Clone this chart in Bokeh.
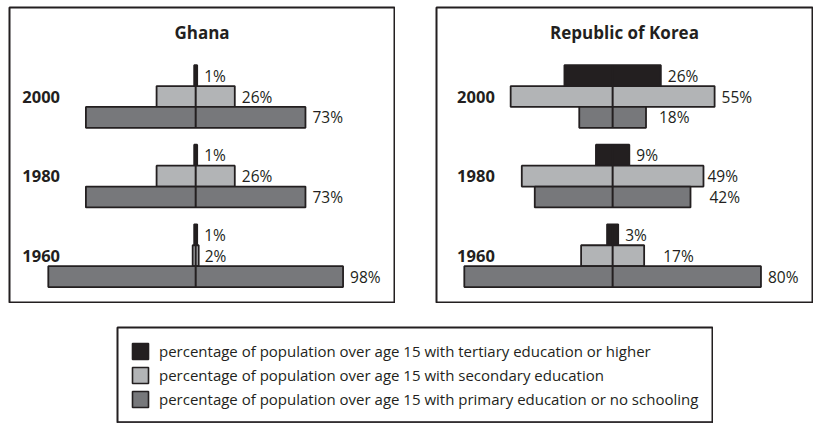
from bokeh.plotting import figure
from bokeh.models import Range1d, Legend, LegendItem, ColumnDataSource, Spacer
from bokeh.layouts import row, column
from bokeh.core.properties import value
from bokeh.embed import file_html
from bokeh.resources import INLINE

# ---------------- data ----------------
years = ["2000", "1980", "1960"]
levels = ["tertiary", "secondary", "primary"]
panel_titles = ["Ghana", "Republic of Korea"]

ghana_tertiary = [1, 1, 1]
ghana_secondary = [26, 26, 2]
ghana_primary = [73, 73, 98]

korea_tertiary = [26, 9, 3]
korea_secondary = [55, 49, 17]
korea_primary = [18, 42, 80]

legend_labels = [
    "percentage of population over age 15 with tertiary education or higher",
    "percentage of population over age 15 with secondary education",
    "percentage of population over age 15 with primary education or no schooling",
]

# ---------------- styles ----------------
INK = "#231f20"
FILLS = {"tertiary": "#231f20", "secondary": "#b2b4b6", "primary": "#77787b"}
FONT = "Open Sans"
GROUP_STEP = 3.81
LEVEL_OFFSET = {"tertiary": 1, "secondary": 0, "primary": -1}
Y_RANGE = (-2.24, 11.88)
LABEL_GAP = 7
TITLE_Y = 10.68

# per-label pixel nudges (tertiary, secondary, primary) x years
ghana_nudge = [[0, 0, 0], [0, 0, -1], [0, 0, 0]]
korea_nudge = [[0, 0, 0], [0, -3, 12], [6, 12, 0]]


def make_panel(title, series, x_range, width, year_x, nudges):
    p = figure(width=width, height=297, x_range=Range1d(*x_range),
               y_range=Range1d(*Y_RANGE), output_backend="svg",
               toolbar_location=None, x_axis_location=None,
               y_axis_location=None, min_border=1)
    p.title.visible = False
    p.grid.visible = False
    p.outline_line_color = INK
    p.outline_line_width = 2
    p.background_fill_color = "white"

    n = len(years)
    group_y = [GROUP_STEP * (n - 1 - i) for i in range(n)]

    for lvl, vals, nud in zip(levels, series, nudges):
        ys = [g + LEVEL_OFFSET[lvl] for g in group_y]
        src = ColumnDataSource(dict(
            y=ys,
            left=[-v / 2 for v in vals],
            right=[v / 2 for v in vals],
            lab=[f"{v}%" for v in vals],
            xo=[LABEL_GAP + d for d in nud],
        ))
        p.hbar(y="y", left="left", right="right", height=1, source=src,
               fill_color=FILLS[lvl], line_color=INK, line_width=1.8)
        p.text(x="right", y="y", text="lab", x_offset="xo", source=src,
               text_font=value(FONT), text_font_size="15.5px",
               text_color=INK, text_baseline="middle", text_align="left")

    # centre line through each group
    p.segment(x0=[0] * n, x1=[0] * n,
              y0=[g - 1.5 for g in group_y], y1=[g + 1.5 for g in group_y],
              line_color=INK, line_width=2)

    # year labels
    p.text(x=[year_x] * n, y=group_y, text=years,
           text_font=value(FONT), text_font_size="16.5px",
           text_font_style="bold", text_color=INK,
           text_baseline="middle", text_align="left")

    # panel title
    p.text(x=[(x_range[0] + x_range[1]) / 2], y=[TITLE_Y], text=[title],
           text_font=value(FONT), text_font_size="17px",
           text_font_style="bold", text_color=INK,
           text_baseline="middle", text_align="center")
    return p


p1 = make_panel(panel_titles[0],
                [ghana_tertiary, ghana_secondary, ghana_primary],
                (-61.9, 66.1), 387, -57.65, ghana_nudge)
p2 = make_panel(panel_titles[1],
                [korea_tertiary, korea_secondary, korea_primary],
                (-47.5, 53.9), 378, -41.95, korea_nudge)

# ---------------- legend panel ----------------
p3 = figure(width=597, height=97, x_range=Range1d(0, 1), y_range=Range1d(0, 1),
            output_backend="svg", toolbar_location=None,
            x_axis_location=None, y_axis_location=None, min_border=1)
p3.title.visible = False
p3.grid.visible = False
p3.outline_line_color = INK
p3.outline_line_width = 2

items = []
for lvl, lab in zip(levels, legend_labels):
    # swatch source: one bar kept outside the visible range of this panel
    r = p3.hbar(y=[-5], left=[0], right=[1], height=1,
                fill_color=FILLS[lvl], line_color=INK, line_width=1.6)
    items.append(LegendItem(label=lab, renderers=[r]))

legend = Legend(items=items, location=(13, 13),
                glyph_width=20, glyph_height=20, label_height=20,
                spacing=4, padding=0, margin=0, label_standoff=9,
                label_text_font=FONT, label_text_font_size="15px",
                label_text_color=INK, border_line_alpha=0,
                background_fill_alpha=0)
p3.add_layout(legend)

layout = column(
    Spacer(height=6),
    row(Spacer(width=8), p1, Spacer(width=40), p2, Spacer(width=4)),
    Spacer(height=23),
    row(Spacer(width=116), p3, Spacer(width=104)),
    Spacer(height=1),
)

open("out.html", "w").write(file_html(layout, INLINE))
